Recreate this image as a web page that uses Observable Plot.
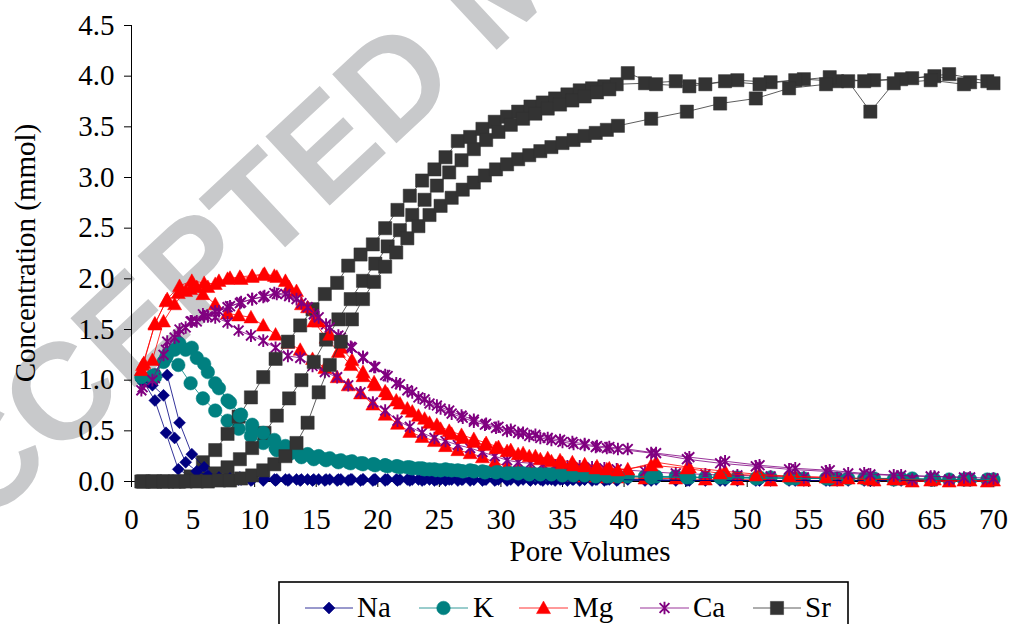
<!DOCTYPE html>
<html><head><meta charset="utf-8">
<script src="https://cdn.jsdelivr.net/npm/d3@7"></script>
<script src="https://cdn.jsdelivr.net/npm/@observablehq/plot@0.6"></script>
<style>body{margin:0;background:#fff} svg text{font-family:"Liberation Serif","Times New Roman","DejaVu Serif",serif;}</style>
</head><body><div id="chart"></div>
<script>
const ions = ["Na","K","Mg","Ca","Sr"];
const colors = ["#000080","#008080","#ff0000","#800080","#333333"];
const xTicks = [0,5,10,15,20,25,30,35,40,45,50,55,60,65,70];
const yTicks = [0,0.5,1,1.5,2,2.5,3,3.5,4,4.5];

// Replicate 1
const pv1 = [0.9,1.9,2.8,3.8,4.8,5.8,6.8,7.8,8.7,9.7,10.7,11.7,12.7,13.7,14.7,15.7,16.7,17.6,18.6,19.6,20.6,21.6,22.6,23.6,24.6,25.5,26.5,27.5,28.5,29.5,30.5,31.4,32.4,33.4,34.4,35.4,36.4,37.4,38.4,39.4,41.7,44.2,46.6,49.2,51.9,54.6,57.3,60.3,63.4,66.4,69.5];
const na1 = [1.00,0.80,0.48,0.12,0.05,0.03,0.02,0.02,0.02,0.01,0.01,0.01,0.01,0.01,0.01,0.01,0.01,0.01,0.01,0.01,0.01,0.01,0.01,0.01,0.01,0.01,0.01,0.01,0.01,0.01,0.01,0.01,0.01,0.01,0.01,0.01,0.01,0.01,0.01,0.01,0.01,0.01,0.01,0.01,0.01,0.01,0.01,0.01,0.01,0.01,0.01];
const k1 = [1.02,1.05,1.22,1.15,0.97,0.82,0.70,0.60,0.52,0.45,0.38,0.33,0.29,0.26,0.24,0.22,0.20,0.19,0.18,0.17,0.16,0.15,0.14,0.13,0.12,0.12,0.11,0.11,0.10,0.10,0.09,0.09,0.08,0.08,0.08,0.07,0.07,0.07,0.06,0.06,0.05,0.05,0.04,0.04,0.04,0.03,0.03,0.03,0.03,0.02,0.02];
const mg1 = [1.15,1.55,1.78,1.86,1.90,1.85,1.75,1.66,1.64,1.62,1.54,1.45,1.37,1.30,1.21,1.12,1.03,0.95,0.87,0.76,0.66,0.57,0.49,0.44,0.40,0.35,0.31,0.28,0.24,0.19,0.15,0.12,0.10,0.08,0.07,0.06,0.05,0.05,0.04,0.04,0.03,0.03,0.02,0.02,0.01,0.01,0.01,0.01,0.00,0.00,0.00];
const ca1 = [0.93,1.05,1.30,1.45,1.58,1.65,1.62,1.57,1.49,1.44,1.39,1.32,1.24,1.22,1.14,1.08,1.03,0.95,0.88,0.78,0.70,0.60,0.54,0.48,0.43,0.40,0.36,0.33,0.29,0.25,0.21,0.19,0.18,0.17,0.16,0.15,0.15,0.14,0.13,0.12,0.10,0.08,0.07,0.06,0.05,0.04,0.03,0.03,0.02,0.02,0.02];
const sr1 = [0,0,0,0,0.05,0.19,0.31,0.47,0.64,0.83,1.03,1.21,1.38,1.54,1.70,1.85,1.96,2.13,2.24,2.34,2.50,2.68,2.82,2.97,3.08,3.20,3.36,3.40,3.48,3.55,3.60,3.65,3.70,3.74,3.78,3.82,3.86,3.88,3.90,3.92,3.93,3.95,3.92,3.96,3.94,3.97,3.95,3.96,3.98,4.02,3.95];

// Replicate 2
const pv2 = [1.0,1.9,2.9,3.9,4.9,5.9,6.8,7.8,8.8,9.8,10.8,11.8,12.8,13.8,14.8,15.8,16.8,17.8,18.8,19.8,20.8,21.8,22.8,23.8,24.8,25.8,26.8,27.8,28.8,29.8,30.8,31.8,32.8,33.8,34.8,35.8,36.8,37.8,38.8,40.3,42.6,45.3,48.2,51.0,53.9,56.7,59.5,62.5,65.2,68.1,70.0];
const na2 = [1.02,1.00,1.05,0.58,0.27,0.14,0.08,0.05,0.04,0.03,0.03,0.02,0.02,0.02,0.02,0.02,0.02,0.02,0.02,0.02,0.02,0.02,0.02,0.02,0.02,0.02,0.02,0.02,0.02,0.02,0.02,0.02,0.02,0.02,0.02,0.02,0.02,0.02,0.02,0.02,0.02,0.01,0.01,0.01,0.01,0.01,0.01,0.01,0.01,0.01,0.01];
const k2 = [1.00,1.03,1.25,1.36,1.32,1.16,0.97,0.80,0.65,0.52,0.40,0.31,0.27,0.24,0.22,0.21,0.19,0.18,0.17,0.16,0.15,0.14,0.13,0.12,0.11,0.11,0.10,0.10,0.09,0.09,0.08,0.08,0.07,0.07,0.07,0.06,0.06,0.06,0.05,0.05,0.05,0.04,0.04,0.04,0.03,0.03,0.03,0.03,0.02,0.02,0.02];
const mg2 = [1.17,1.56,1.80,1.93,1.98,1.96,1.95,2.00,2.02,2.03,2.05,2.02,1.92,1.75,1.58,1.42,1.28,1.15,1.04,0.95,0.86,0.77,0.69,0.62,0.56,0.50,0.46,0.42,0.38,0.34,0.31,0.28,0.25,0.23,0.21,0.19,0.17,0.15,0.13,0.12,0.19,0.14,0.10,0.07,0.05,0.04,0.03,0.02,0.02,0.01,0.01];
const ca2 = [0.97,1.02,1.38,1.50,1.58,1.63,1.68,1.72,1.76,1.80,1.83,1.85,1.83,1.76,1.65,1.55,1.44,1.33,1.23,1.13,1.04,0.96,0.88,0.81,0.75,0.70,0.65,0.61,0.57,0.54,0.51,0.48,0.46,0.43,0.41,0.39,0.37,0.35,0.34,0.32,0.28,0.24,0.20,0.16,0.13,0.11,0.08,0.06,0.05,0.04,0.03];
const sr2 = [0,0,0,0,0.01,0.03,0.08,0.14,0.22,0.33,0.48,0.65,0.82,1.00,1.18,1.40,1.60,1.80,1.98,2.15,2.32,2.48,2.63,2.78,2.92,3.05,3.17,3.28,3.37,3.45,3.52,3.58,3.63,3.68,3.72,3.76,3.80,3.84,3.87,4.03,3.92,3.90,3.95,3.92,3.96,3.99,3.95,3.97,4.00,3.94,3.93];

// Replicate 3
const pv3 = [0.8,1.7,2.6,3.5,4.4,5.3,6.2,7.1,8.0,8.9,9.8,10.7,11.6,12.5,13.4,14.3,15.2,16.1,17.0,17.9,18.8,19.7,20.6,21.5,22.4,23.3,24.2,25.1,26.0,26.9,27.8,28.7,29.6,30.5,31.4,32.3,33.2,34.1,35.0,35.9,36.8,37.7,38.6,39.5,42.2,45.1,47.8,50.7,53.4,56.4,58.2,60.0,61.9,64.9,67.6];
const na3 = [1.00,0.95,0.85,0.43,0.19,0.10,0.06,0.04,0.03,0.02,0.02,0.02,0.02,0.02,0.02,0.02,0.02,0.02,0.02,0.02,0.02,0.02,0.02,0.02,0.02,0.02,0.02,0.02,0.02,0.02,0.02,0.02,0.02,0.02,0.02,0.02,0.02,0.02,0.02,0.02,0.02,0.02,0.02,0.02,0.01,0.01,0.01,0.01,0.01,0.01,0.01,0.01,0.01,0.01,0.01];
const k3 = [1.03,1.04,1.18,1.30,1.30,1.22,1.08,0.92,0.78,0.66,0.56,0.48,0.41,0.35,0.30,0.27,0.25,0.23,0.21,0.20,0.18,0.17,0.16,0.15,0.14,0.13,0.12,0.11,0.11,0.10,0.10,0.09,0.09,0.08,0.08,0.07,0.07,0.07,0.06,0.06,0.06,0.05,0.05,0.05,0.04,0.04,0.04,0.03,0.03,0.03,0.03,0.03,0.02,0.02,0.02];
const mg3 = [1.10,1.20,1.58,1.75,1.88,1.92,1.92,1.98,2.01,2.00,2.02,2.04,2.03,1.98,1.88,1.72,1.58,1.45,1.32,1.20,1.08,0.98,0.89,0.80,0.72,0.65,0.58,0.52,0.47,0.43,0.39,0.36,0.33,0.30,0.27,0.25,0.22,0.20,0.18,0.16,0.15,0.13,0.12,0.11,0.16,0.13,0.08,0.06,0.05,0.04,0.03,0.02,0.02,0.01,0.01];
const ca3 = [0.90,1.00,1.25,1.42,1.52,1.58,1.63,1.68,1.73,1.77,1.80,1.82,1.86,1.85,1.80,1.72,1.62,1.52,1.42,1.32,1.22,1.13,1.05,0.97,0.90,0.83,0.77,0.72,0.67,0.63,0.59,0.56,0.53,0.50,0.48,0.45,0.43,0.41,0.39,0.37,0.36,0.34,0.33,0.32,0.28,0.22,0.18,0.15,0.12,0.10,0.08,0.07,0.06,0.05,0.04];
const sr3 = [0,0,0,0,0,0,0,0.01,0.01,0.03,0.06,0.11,0.17,0.25,0.38,0.58,0.88,1.15,1.38,1.60,1.80,1.97,2.12,2.26,2.40,2.52,2.63,2.72,2.80,2.88,2.95,3.02,3.08,3.13,3.18,3.22,3.26,3.30,3.34,3.37,3.41,3.44,3.47,3.51,3.58,3.65,3.73,3.78,3.88,3.92,3.95,3.65,3.93,3.96,3.92];

// marker shapes
const R = s => Math.sqrt(s / Math.PI);
const symDiamond = {draw(c, s){const r=R(s); c.moveTo(0,-r); c.lineTo(r,0); c.lineTo(0,r); c.lineTo(-r,0); c.closePath();}};
const symSquare = {draw(c, s){const r=R(s); c.moveTo(-r,-r); c.lineTo(r,-r); c.lineTo(r,r); c.lineTo(-r,r); c.closePath();}};
const symTriangle = {draw(c, s){const r=R(s); c.moveTo(0,-r); c.lineTo(r,r*0.8); c.lineTo(-r,r*0.8); c.closePath();}};
const symStar = {draw(c, s){const r=R(s); const d=r*0.78; c.moveTo(0,-r); c.lineTo(0,r); c.moveTo(-d,-d); c.lineTo(d,d); c.moveTo(-d,d); c.lineTo(d,-d);}};
const symbols = [symDiamond, "circle", symTriangle, symStar, symSquare];
const sizes = [6, 6.8, 7, 6.3, 6.6];

const reps = [
  {pv: pv1, vals: [na1, k1, mg1, ca1, sr1]},
  {pv: pv2, vals: [na2, k2, mg2, ca2, sr2]},
  {pv: pv3, vals: [na3, k3, mg3, ca3, sr3]}
];

const marks = [];
reps.forEach((rep, ri) => {
  rep.vals.forEach((arr, ii) => {
    const data = arr.map((v, j) => ({pv: rep.pv[j], c: v}));
    marks.push(Plot.line(data, {x: "pv", y: "c", stroke: colors[ii], strokeWidth: 0.8}));
    const isStroke = ii === 3;
    marks.push(Plot.dot(data, {
      x: "pv", y: "c", r: sizes[ii], symbol: () => symbols[ii],
      fill: isStroke ? "none" : colors[ii],
      stroke: colors[ii], strokeWidth: isStroke ? 1.9 : 0.5
    }));
  });
});

const chart = Plot.plot({
  width: 1012, height: 624,
  marginLeft: 131, marginRight: 19, marginTop: 25, marginBottom: 143,
  style: {fontFamily: "Liberation Serif", fontSize: "29px", background: "white", color: "black"},
  x: {domain: [0, 70], ticks: xTicks, tickFormat: d3.format("d"), tickSize: 6, tickPadding: 21, label: null, line: true},
  y: {domain: [0, 4.5], ticks: yTicks, tickFormat: d3.format(".1f"), tickSize: 7, tickPadding: 10, label: null, line: true},
  symbol: {type: "identity"},
  marks
});

const svg = d3.select(chart);
svg.style("overflow", "hidden").style("font-family", "Liberation Serif");

// watermark (behind everything)
svg.insert("text", ":first-child")
  .attr("transform", "translate(-89,596) rotate(-43)")
  .attr("text-anchor", "start")
  .attr("fill", "#c8c9cb")
  .attr("style", "font-family:'Liberation Sans',Arial,sans-serif;font-weight:bold;font-size:137px")
  .text("ACCEPTED MANUSCRIPT");

// axis titles
svg.append("text").attr("x", 590).attr("y", 561).attr("text-anchor", "middle")
  .style("font-size", "29px").text("Pore Volumes");
svg.append("text").attr("transform", "translate(35,253) rotate(-90)").attr("text-anchor", "middle")
  .style("font-size", "29px").text("Concentration (mmol)");

// legend
const lg = svg.append("g");
lg.append("rect").attr("x", 279).attr("y", 582).attr("width", 569).attr("height", 60)
  .attr("fill", "white").attr("stroke", "black").attr("stroke-width", 1.6);
const items = [
  {x0: 305, x1: 353, tx: 357},
  {x0: 419, x1: 468, tx: 473},
  {x0: 519, x1: 568, tx: 573},
  {x0: 640, x1: 689, tx: 693},
  {x0: 753, x1: 801, tx: 805}
];
items.forEach((it, i) => {
  const ly = 608;
  lg.append("line").attr("x1", it.x0).attr("x2", it.x1).attr("y1", ly).attr("y2", ly)
    .attr("stroke", colors[i]).attr("stroke-width", 0.8);
  const sym = symbols[i] === "circle" ? d3.symbolCircle : symbols[i];
  const isStroke = i === 3;
  lg.append("path").attr("transform", `translate(${(it.x0 + it.x1) / 2},${ly})`)
    .attr("d", d3.symbol(sym, Math.PI * sizes[i] * sizes[i])())
    .attr("fill", isStroke ? "none" : colors[i]).attr("stroke", colors[i])
    .attr("stroke-width", isStroke ? 1.9 : 0.5);
  lg.append("text").attr("x", it.tx).attr("y", 617).attr("text-anchor", "start")
    .style("font-size", "29px").text(ions[i]);
});

document.getElementById("chart").appendChild(chart);
</script>
</body></html>
